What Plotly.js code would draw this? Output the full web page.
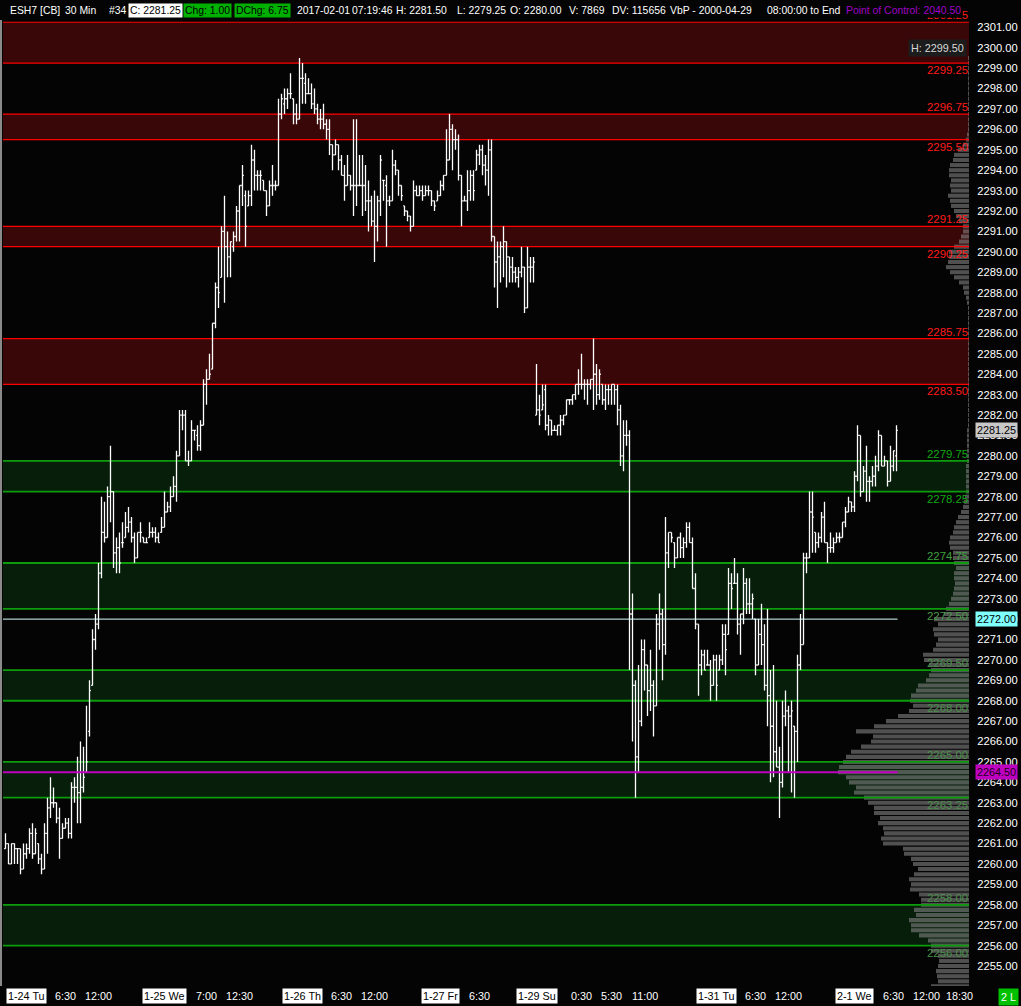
<!DOCTYPE html>
<html><head><meta charset="utf-8">
<script src="https://cdn.plot.ly/plotly-3.0.1.min.js"></script>
<style>html,body{margin:0;padding:0;background:#040404;}#chart{width:1021px;height:1006px;}</style>
</head><body><div id="chart"></div>
<script>
// ---------------- DATA ----------------
const openPx = [
2260.75,2261.0,2260.0,2261.0,2260.75,2260.75,2259.75,2260.5,2260.75,2261.5,
2260.5,2261.0,2260.25,2259.75,2261.5,2262.75,2263.0,2263.0,2262.25,2261.25,
2261.75,2262.0,2261.5,2263.75,2263.75,2263.5,2263.75,2264.5,2266.5,2268.75,
2271.0,2271.75,2274.25,2276.25,2276.0,2278.0,2278.25,2275.25,2275.5,2275.75,
2276.0,2276.5,2276.75,2276.0,2275.0,2276.25,2276.0,2275.75,2276.0,2276.25,
2276.25,2276.0,2276.25,2276.5,2277.25,2277.5,2278.0,2278.5,2280.0,2282.0,
2282.0,2279.75,2279.75,2281.25,2281.0,2280.5,2281.5,2283.5,2283.75,2284.25,
2286.5,2288.25,2288.75,2291.0,2290.25,2289.75,2290.25,2290.75,2292.0,2293.25,
2292.75,2292.25,2292.75,2294.5,2293.75,2293.75,2293.5,2293.0,2292.25,2293.25,
2293.25,2293.25,2296.75,2297.25,2297.5,2297.75,2297.5,2296.75,2296.5,2298.5,
2298.25,2297.75,2297.75,2297.25,2297.0,2296.5,2296.5,2296.25,2296.0,2295.25,
2294.75,2295.25,2294.5,2293.75,2293.25,2293.75,2293.25,2293.25,2293.25,2293.25,
2293.25,2292.5,2292.5,2291.5,2291.25,2292.5,2293.5,2293.25,2292.5,2292.5,
2294.25,2294.0,2293.25,2292.25,2292.0,2291.75,2291.25,2293.0,2292.75,2293.0,
2292.75,2293.0,2293.0,2292.5,2292.5,2292.75,2293.25,2293.75,2294.5,2296.0,
2295.5,2295.5,2293.75,2292.5,2292.5,2293.0,2293.75,2294.0,2294.75,2295.0,
2294.25,2294.0,2295.0,2290.75,2289.5,2289.75,2290.25,2290.5,2289.75,2289.25,
2289.0,2288.75,2289.0,2289.25,2287.25,2289.25,2289.25,2282.0,2282.25,2282.25,
2283.25,2281.5,2281.75,2281.25,2281.25,2281.5,2281.75,2282.0,2282.75,2282.75,
2283.0,2283.5,2283.5,2283.5,2283.5,2283.5,2283.75,2284.0,2283.0,2283.5,
2282.75,2283.25,2283.25,2283.5,2283.25,2282.25,2280.0,2281.0,2281.0,2272.25,
2268.75,2265.25,2267.0,2270.5,2269.75,2268.5,2268.75,2267.75,2271.75,2272.25,
2270.75,2275.25,2276.25,2275.75,2275.0,2276.0,2275.5,2275.75,2276.5,2275.75,
2273.5,2271.75,2269.75,2270.25,2269.75,2269.75,2268.75,2270.0,2269.5,2270.0,
2271.25,2271.25,2273.75,2273.75,2273.75,2271.75,2272.25,2273.75,2272.75,2272.75,
2272.0,2269.75,2271.25,2270.75,2268.75,2268.25,2266.75,2265.5,2264.75,2264.0,
2267.25,2267.5,2267.25,2266.75,2266.5,2269.75,2270.75,2275.0,2275.0,2277.25,
2276.25,2275.75,2276.0,2277.0,2275.75,2275.5,2275.5,2275.75,2276.0,2276.0,
2276.75,2277.25,2277.75,2277.5,2279.0,2281.0,2278.25,2279.25,2278.75,2278.75,
2279.0,2279.5,2281.0,2279.5,2279.75,2278.75,2279.5,2280.0];
const highPx = [
2261.5,2261.0,2261.0,2261.0,2260.75,2260.75,2261.0,2261.0,2261.75,2262.0,
2261.75,2261.0,2260.5,2262.0,2263.25,2264.25,2263.75,2263.0,2262.75,2262.0,
2262.25,2262.25,2264.0,2264.25,2265.25,2266.0,2265.75,2267.75,2269.0,2271.5,
2272.25,2274.75,2278.0,2277.75,2278.5,2280.5,2278.25,2276.0,2276.25,2276.75,
2277.25,2277.5,2277.0,2276.25,2276.25,2276.75,2276.0,2276.0,2276.75,2276.5,
2276.5,2276.25,2277.0,2278.25,2277.75,2278.5,2279.0,2280.25,2282.25,2282.25,
2282.25,2280.25,2281.75,2281.25,2281.5,2281.75,2283.75,2284.25,2285.0,2286.5,
2288.5,2290.25,2291.25,2292.75,2291.0,2290.5,2291.0,2292.25,2293.25,2294.25,
2293.0,2293.0,2295.25,2295.0,2294.0,2294.0,2293.5,2293.0,2293.5,2294.25,
2293.5,2297.5,2297.75,2298.0,2298.0,2298.75,2297.5,2297.25,2299.5,2299.25,
2298.75,2298.5,2298.25,2298.0,2297.25,2297.0,2297.25,2296.5,2296.5,2295.25,
2295.5,2295.25,2294.75,2294.25,2294.75,2293.75,2296.5,2296.5,2294.75,2294.75,
2294.25,2293.5,2292.75,2293.0,2292.75,2294.75,2293.5,2293.75,2292.75,2295.0,
2294.5,2294.0,2293.25,2292.25,2292.0,2291.75,2293.5,2293.25,2293.25,2293.25,
2293.25,2293.25,2293.0,2292.5,2293.0,2293.5,2293.75,2296.0,2296.75,2296.25,
2296.0,2295.75,2293.75,2292.75,2294.0,2294.0,2294.0,2295.0,2295.25,2295.25,
2294.75,2295.5,2295.5,2290.75,2290.5,2290.5,2291.25,2290.5,2289.75,2289.75,
2289.25,2289.25,2290.25,2289.25,2290.25,2289.75,2289.75,2284.5,2283.0,2283.5,
2283.5,2282.0,2281.75,2281.5,2281.5,2282.0,2282.0,2282.75,2282.75,2283.0,
2283.5,2284.25,2285.0,2283.75,2283.75,2283.75,2285.75,2284.5,2284.25,2283.5,
2283.5,2283.5,2283.5,2283.5,2283.5,2282.5,2281.75,2281.75,2281.25,2273.25,
2269.0,2269.75,2271.0,2271.0,2269.75,2270.5,2269.0,2272.25,2273.25,2272.5,
2277.0,2276.25,2276.25,2275.75,2276.0,2276.25,2276.0,2276.75,2276.75,2276.0,
2274.25,2271.75,2270.5,2270.5,2270.5,2270.0,2270.25,2270.25,2270.25,2271.75,
2271.75,2274.5,2274.25,2275.0,2274.25,2272.25,2274.5,2274.0,2274.0,2273.25,
2272.0,2272.0,2272.75,2271.75,2272.5,2269.5,2269.75,2268.0,2265.75,2268.0,
2268.5,2267.75,2268.0,2266.75,2270.25,2272.25,2275.25,2275.25,2278.25,2278.25,
2276.25,2276.25,2277.25,2277.75,2275.75,2276.25,2276.0,2276.25,2276.25,2276.75,
2277.5,2278.0,2277.75,2279.25,2281.5,2281.0,2279.5,2280.5,2279.0,2279.5,
2280.0,2281.25,2281.0,2280.0,2279.75,2280.5,2280.25,2281.5];
const lowPx = [
2260.75,2260.0,2260.0,2260.0,2260.0,2259.5,2259.75,2260.25,2260.5,2260.25,
2260.5,2260.0,2259.5,2259.75,2260.5,2262.25,2262.75,2262.0,2260.25,2261.25,
2261.75,2261.25,2261.25,2263.0,2262.0,2262.0,2263.5,2264.5,2266.25,2268.75,
2270.5,2271.5,2274.0,2275.75,2276.0,2276.75,2274.5,2274.25,2274.25,2275.5,
2276.0,2276.25,2275.75,2274.75,2275.0,2275.75,2275.75,2275.75,2276.0,2276.0,
2275.75,2275.75,2276.25,2276.5,2277.25,2277.25,2278.0,2277.75,2280.0,2281.25,
2279.75,2279.5,2279.75,2280.75,2280.25,2280.25,2281.5,2282.5,2283.75,2284.25,
2286.25,2287.25,2288.75,2287.5,2288.75,2288.75,2290.0,2290.5,2290.5,2292.25,
2290.25,2292.25,2292.25,2293.0,2293.0,2293.0,2293.0,2291.75,2292.25,2292.75,
2293.0,2293.25,2296.5,2296.75,2297.0,2297.5,2296.25,2296.25,2296.5,2297.25,
2297.25,2297.75,2297.0,2296.75,2296.25,2296.0,2296.0,2295.5,2294.75,2294.0,
2294.75,2294.0,2293.75,2292.5,2293.25,2293.0,2291.75,2292.25,2293.25,2291.75,
2292.0,2291.0,2291.25,2289.5,2290.5,2291.75,2292.5,2290.25,2292.25,2292.5,
2293.75,2292.75,2292.5,2291.75,2291.5,2291.0,2291.25,2292.75,2292.75,2292.5,
2292.75,2292.75,2292.25,2292.0,2292.5,2292.75,2293.0,2293.75,2294.5,2294.0,
2295.0,2293.5,2291.25,2292.5,2292.0,2292.5,2292.5,2294.0,2294.25,2293.75,
2293.25,2292.75,2290.5,2288.25,2287.25,2288.5,2288.75,2288.25,2288.5,2288.5,
2288.5,2288.25,2288.75,2287.0,2287.25,2288.5,2288.5,2282.0,2281.5,2282.25,
2281.25,2281.0,2281.0,2281.25,2281.0,2281.0,2281.5,2282.0,2282.5,2282.5,
2282.75,2283.0,2283.25,2282.75,2282.5,2283.25,2282.25,2282.5,2282.75,2282.5,
2282.25,2282.5,2282.5,2282.5,2281.5,2279.5,2279.25,2280.5,2269.5,2266.0,
2263.25,2264.5,2266.75,2268.5,2267.25,2267.5,2266.25,2267.75,2270.5,2269.0,
2270.25,2274.5,2275.75,2274.5,2275.0,2275.0,2275.0,2275.5,2275.75,2273.5,
2271.5,2268.25,2269.25,2269.5,2269.75,2268.0,2268.75,2268.0,2269.5,2269.75,
2269.25,2271.25,2272.5,2273.75,2271.25,2270.25,2271.75,2272.25,2272.25,2272.0,
2269.25,2269.75,2269.75,2268.5,2266.75,2264.0,2264.25,2264.75,2262.25,2263.75,
2266.75,2264.5,2263.5,2263.25,2265.0,2269.5,2270.75,2274.25,2275.0,2275.25,
2275.25,2275.5,2275.75,2275.75,2274.75,2275.25,2275.25,2275.75,2275.75,2276.0,
2276.5,2277.25,2277.25,2277.25,2278.75,2278.0,2278.25,2277.75,2277.75,2278.5,
2278.5,2279.25,2279.5,2279.5,2278.5,2278.75,2279.25,2279.25];
const closePx = [
2261.0,2260.0,2261.0,2260.75,2260.75,2259.75,2260.5,2260.75,2261.5,2260.5,
2261.5,2260.25,2259.75,2261.5,2262.75,2263.0,2263.0,2262.25,2261.25,2261.75,
2262.0,2261.5,2263.75,2263.75,2263.5,2263.75,2264.25,2265.0,2268.5,2271.0,
2271.75,2274.25,2276.25,2276.0,2278.0,2278.25,2275.25,2275.5,2274.75,2275.75,
2276.5,2276.75,2276.0,2275.0,2276.25,2276.25,2275.75,2275.75,2276.25,2276.25,
2276.0,2275.75,2276.5,2277.25,2277.5,2278.0,2278.5,2280.0,2282.0,2282.0,
2279.75,2279.75,2281.25,2281.25,2280.5,2281.5,2283.5,2283.75,2284.0,2286.5,
2288.25,2288.0,2291.0,2290.25,2289.75,2290.5,2290.75,2292.0,2293.25,2293.75,
2291.25,2292.75,2294.5,2293.75,2293.75,2293.75,2293.0,2292.25,2293.25,2293.25,
2293.25,2296.75,2297.5,2297.5,2297.75,2297.75,2296.75,2296.5,2298.5,2298.5,
2297.75,2297.75,2297.25,2297.0,2296.5,2296.5,2296.25,2296.0,2295.25,2294.75,
2295.25,2294.5,2293.75,2293.25,2293.75,2293.25,2293.25,2293.25,2293.25,2293.25,
2292.5,2292.5,2291.5,2291.25,2292.5,2294.5,2293.5,2292.5,2292.5,2294.25,
2294.0,2293.25,2292.75,2292.0,2291.75,2291.25,2293.0,2292.75,2293.0,2292.75,
2293.0,2293.0,2292.5,2292.25,2292.75,2293.25,2293.75,2294.5,2296.0,2295.5,
2295.5,2293.75,2292.5,2292.5,2293.0,2293.75,2293.0,2294.75,2295.0,2294.25,
2294.0,2295.0,2290.75,2289.5,2289.75,2290.25,2290.5,2289.75,2289.25,2289.0,
2288.75,2289.0,2289.25,2287.25,2289.25,2289.25,2289.5,2282.25,2282.0,2282.5,
2281.5,2281.75,2281.25,2281.25,2281.5,2281.75,2282.0,2282.75,2282.75,2283.0,
2283.5,2283.5,2283.5,2283.5,2283.5,2283.75,2284.0,2283.0,2284.0,2282.75,
2283.25,2283.25,2283.5,2283.25,2282.25,2280.0,2281.0,2281.0,2272.25,2268.75,
2265.25,2267.0,2270.5,2269.75,2268.5,2268.75,2267.75,2271.75,2272.25,2270.75,
2275.25,2276.25,2276.0,2275.0,2276.0,2275.5,2275.75,2276.5,2275.75,2273.5,
2271.75,2269.75,2270.25,2269.5,2269.75,2268.75,2270.0,2268.75,2270.0,2271.25,
2270.5,2273.75,2273.5,2273.75,2271.75,2272.25,2273.75,2272.75,2272.75,2273.0,
2269.75,2271.25,2270.75,2268.75,2268.25,2266.75,2265.5,2264.75,2264.0,2267.25,
2267.5,2267.25,2267.5,2266.5,2269.75,2270.75,2275.0,2275.0,2277.25,2277.0,
2275.75,2276.0,2277.0,2275.75,2275.5,2275.5,2275.75,2276.0,2276.0,2276.75,
2277.25,2277.75,2277.5,2279.0,2281.0,2278.25,2279.25,2278.75,2278.75,2279.0,
2279.5,2281.0,2279.5,2279.75,2278.75,2279.5,2280.25,2281.25];

// volume-at-price profile, one value per 0.25 tick from profileStart upward
const profileStart = 2254.00;
const profileStep = 0.25;
const profileVol = [
38,31,32,33, 31,30,31,38, 38,41,50,58, 58,60,53,55, 48,48,50,59,
58,60,55,51, 56,58,65,66, 86,88,85,86, 91,89,95,95, 101,105,115,113,
120,123,131,130, 126,123,118,108, 98,96,113,95, 83,71,60,56, 59,58,53,51,
43,40,38,40, 45,46,36,33, 31,35,36,31, 35,25,23,20, 18,16,15,14,
15,15,13,15, 16,16,19,20, 19,16,15,13, 11,8,6,5, 4,3,3,3,
3,3,3,2, 2,2,2,2, 2,2,1,1, 1,1,1,1, 1,1,1,1,
1,1,1,1, 1,1,1,1, 1,1,1,1, 1,1,2,3, 5,6,10,15,
19,23,21,20, 20,15,10,8, 6,6,10,13, 15,18,19,21, 18,19,18,20,
20,19,16,15, 11,6,3,2, 1,1,1,1, 1,1,1,1, 1,1,1,1, 1,1,1];

// supply (red) and demand (green) zones
const supplyLow  = [2299.25, 2295.50, 2290.25, 2283.50];
const supplyHigh = [2301.25, 2296.75, 2291.25, 2285.75];
const demandLow  = [2278.25, 2272.50, 2268.00, 2263.25, 2256.00];
const demandHigh = [2279.75, 2274.75, 2269.50, 2265.00, 2258.00];
const refPrice = 2272.00;
const pocPrice = 2264.50;

// time axis labels (bar index of each label)
const dateLabels = ["1-24 Tu","1-25 We","1-26 Th","1-27 Fr","1-29 Su","1-31 Tu","2-1 We"];
const dateIdx    = [7, 53, 99, 145, 177, 237, 283];
const timeLabels = ["6:30","12:00","7:00","12:30","6:30","12:00","6:30","0:30","5:30","11:00","6:30","12:00","6:30","12:00","18:30"];
const timeIdx    = [20, 31, 67, 78, 112, 123, 158, 192, 202, 213, 250, 261, 296, 307, 318];

// ---------------- DRAW ----------------
const FONT = 'Liberation Sans, Arial, sans-serif';
const FS = 10.8;
const HFS = 10.4;
const W = 1021, H = 1006, ML = 3, MR = 52, MT = 20, MB = 20;
const PW = W - ML - MR, PH = H - MT - MB;
const px = a => (a - ML) / PW;
const py = a => (H - MB - a) / PH;
const yRange = [2254.02, 2301.36];
const xRange = [-0.8333, 321.1667];
const xIdx = openPx.map((_, i) => i);
const last = openPx.length - 1;
const f2 = v => v.toFixed(2);

function levelLines(levels, color, width) {
  const xs = [], ys = [];
  levels.forEach(p => { xs.push(0, PW, null); ys.push(p, p, null); });
  return {type:'scatter', mode:'lines', x:xs, y:ys, xaxis:'x', yaxis:'y',
          line:{color:color, width:width}, hoverinfo:'skip', connectgaps:false};
}

const traces = [
  {type:'bar', orientation:'h', x:profileVol, y0:profileStart, dy:profileStep,
   width:profileStep*0.8, xaxis:'x', yaxis:'y', hoverinfo:'skip',
   marker:{color:'rgba(128,128,128,0.62)', line:{width:0}}},
  levelLines(supplyLow.concat(supplyHigh), '#ff0000', 1.2),
  levelLines(demandLow.concat(demandHigh), '#0c9c0c', 1.8),
  {type:'ohlc', x:xIdx, open:openPx, high:highPx, low:lowPx, close:closePx,
   xaxis:'x2', yaxis:'y', tickwidth:0.45, hoverinfo:'skip',
   increasing:{line:{color:'#ffffff', width:1.3}},
   decreasing:{line:{color:'#ffffff', width:1.3}}}
];

const shapes = [];
supplyLow.forEach((lo, k) => shapes.push({type:'rect', xref:'paper', x0:0, x1:1, yref:'y', y0:lo, y1:supplyHigh[k],
  fillcolor:'#3a0708', line:{width:0}, layer:'below'}));
demandLow.forEach((lo, k) => shapes.push({type:'rect', xref:'paper', x0:0, x1:1, yref:'y', y0:lo, y1:demandHigh[k],
  fillcolor:'#061e0a', line:{width:0}, layer:'below'}));
shapes.push({type:'line', xref:'paper', x0:px(1), x1:px(1), yref:'paper', y0:0, y1:1, line:{color:'#8a8a8a', width:2}});
shapes.push({type:'line', xref:'x2', x0:xRange[0], x1:last + 0.35, yref:'y', y0:refPrice, y1:refPrice,
  line:{color:'#d8ffff', width:1}, layer:'above'});
shapes.push({type:'line', xref:'x2', x0:xRange[0], x1:last + 0.35, yref:'y', y0:pocPrice, y1:pocPrice,
  line:{color:'#c000c0', width:2}, layer:'above'});

const ann = [];
function zoneLabel(p, above, color) {
  ann.push({xref:'paper', x:1, xanchor:'right', yref:'y', y:p, yanchor: above ? 'bottom' : 'top',
    text:f2(p), showarrow:false, borderpad:0, font:{family:FONT, size:FS+0.6, color:color}});
}
supplyHigh.forEach(p => zoneLabel(p, true, '#ff1a1a'));
supplyLow.forEach(p => zoneLabel(p, false, '#ff1a1a'));
demandHigh.forEach((p, k) => zoneLabel(p, true, k === 0 ? '#12a812' : (k === 1 ? '#3f9f3f' : '#4a8f4a')));
demandLow.forEach((p, k) => zoneLabel(p, false, k === 0 ? '#12a812' : (k === 1 ? '#4a9a4a' : '#4a8f4a')));

// price markers on the axis
function axisBox(p, bg, fg) {
  ann.push({xref:'paper', x:px(975), xanchor:'left', yref:'y', y:p, yanchor:'middle', text:f2(p),
    showarrow:false, bgcolor:bg, borderpad:1, font:{family:FONT, size:FS, color:fg}});
}
axisBox(closePx[last], '#c8c8c8', '#000000');
axisBox(refPrice, '#80ffff', '#000000');
axisBox(pocPrice, '#c000c0', '#1a001a');

// session high label
ann.push({xref:'paper', x:px(967), xanchor:'right', yref:'y', y:2300.0, yanchor:'middle',
  text:'H: ' + f2(Math.max(...highPx)), showarrow:false, bgcolor:'#1c1c1c', borderpad:2,
  font:{family:FONT, size:FS, color:'#d8d8d8'}});

// header
function hdr(x, text, color, bg) {
  const a = {xref:'paper', yref:'paper', x:px(x), y:py(10), xanchor:'left', yanchor:'middle',
    text:text, showarrow:false, borderpad:1, font:{family:FONT, size:HFS, color:color}};
  if (bg) a.bgcolor = bg;
  ann.push(a);
}
const lastChg = closePx[last] - closePx[last - 1];
hdr(8, 'ESH7 [CB]', '#ffffff');
hdr(63, '30 Min', '#ffffff');
hdr(107, '#34', '#ffffff');
hdr(128, 'C: ' + f2(closePx[last]), '#000000', '#ffffff');
hdr(183, 'Chg: ' + f2(lastChg), '#000000', '#00b000');
hdr(234, 'DChg: 6.75', '#000000', '#00b000');
hdr(295, '2017-02-01', '#ffffff');
hdr(350, '07:19:46', '#ffffff');
hdr(394, 'H: ' + f2(highPx[last]), '#ffffff');
hdr(455, 'L: ' + f2(lowPx[last]), '#ffffff');
hdr(508, 'O: ' + f2(openPx[last]), '#ffffff');
hdr(567, 'V: 7869', '#ffffff');
hdr(610, 'DV: 115656', '#ffffff');
hdr(668, 'VbP - 2000-04-29', '#ffffff');
hdr(765, '08:00:00 to End', '#ffffff');
hdr(844, 'Point of Control: 2040.50', '#a000c8', '#040404');

// time axis
dateLabels.forEach((t, k) => ann.push({xref:'x2', x:dateIdx[k], yref:'paper', y:py(996), xanchor:'center', yanchor:'middle',
  text:t, showarrow:false, bgcolor:'#ffffff', borderpad:1, font:{family:FONT, size:FS, color:'#000000'}}));
timeLabels.forEach((t, k) => ann.push({xref:'x2', x:timeIdx[k], yref:'paper', y:py(996), xanchor:'center', yanchor:'middle',
  text:t, showarrow:false, font:{family:FONT, size:FS, color:'#ffffff'}}));
ann.push({xref:'paper', x:px(1009), yref:'paper', y:py(996.5), xanchor:'center', yanchor:'middle',
  text:'2 L', showarrow:false, bgcolor:'#00c000', borderpad:2, font:{family:FONT, size:FS, color:'#ffffff'}});

const layout = {
  width:W, height:H, margin:{l:ML, r:MR, t:MT, b:MB, pad:0},
  paper_bgcolor:'#040404', plot_bgcolor:'#040404', showlegend:false,
  font:{family:FONT, size:FS, color:'#ffffff'},
  xaxis:{range:[PW, 0], visible:false, fixedrange:true, rangeslider:{visible:false}},
  xaxis2:{overlaying:'x', anchor:'y', range:xRange, visible:false, fixedrange:true, rangeslider:{visible:false}},
  yaxis:{side:'right', range:yRange, dtick:1, tick0:0, tickformat:'.2f', showgrid:false, zeroline:false,
    showline:false, ticks:'outside', ticklen:5, tickcolor:'rgba(0,0,0,0)', fixedrange:true,
    tickfont:{family:FONT, size:FS+0.4, color:'#ffffff'}},
  shapes:shapes, annotations:ann
};
Plotly.newPlot('chart', traces, layout, {staticPlot:true, displayModeBar:false});
</script></body></html>
